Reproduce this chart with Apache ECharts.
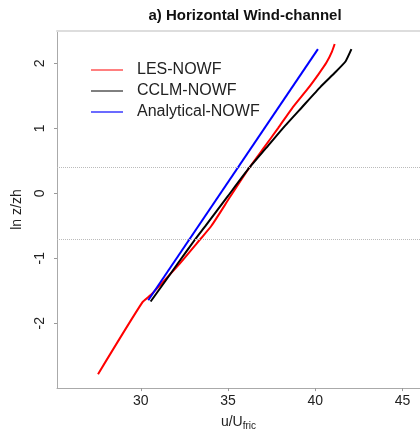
<!DOCTYPE html>
<html>
<head>
<meta charset="utf-8">
<script src="https://cdn.jsdelivr.net/npm/echarts@6/dist/echarts.min.js"></script>
<style>
  html, body { margin: 0; padding: 0; background: #fff; }
  #chart { width: 420px; height: 436px; }
</style>
</head>
<body>
<div id="chart"></div>
<script>
// Wind profiles: u/U_fric against ln(z/zh)
const lesU  = [27.55, 30.09, 30.57, 31.15, 32.08, 33.43, 34.05, 35.13, 36.21, 37.05, 37.87, 38.66, 39.56, 40.18, 40.64, 40.95, 41.11];
const lesZ  = [-2.786, -1.68, -1.566, -1.40, -1.13, -0.70, -0.50, -0.05, 0.39, 0.70, 1.005, 1.306, 1.607, 1.833, 2.014, 2.179, 2.30];

const cclmU = [30.565, 31.41, 32.2, 33.14, 33.71, 35.0, 36.21, 37.19, 38.15, 39.25, 40.3, 41.13, 41.73, 42.07];
const cclmZ = [-1.666, -1.35, -1.05, -0.70, -0.50, -0.04, 0.39, 0.70, 1.005, 1.33, 1.64, 1.86, 2.03, 2.22];

const anaU  = [30.43, 40.15];
const anaZ  = [-1.646, 2.22];

// reference heights marked with dotted lines
const refLevels = [0.40, -0.70];

const xTicks = [30, 35, 40, 45];
const yTicks = [-2, -1, 0, 1, 2];

const pairs = (xs, ys) => xs.map((x, i) => [x, ys[i]]);

const chart = echarts.init(document.getElementById('chart'));
const font = 'Liberation Sans, Arial, sans-serif';

chart.setOption({
  animation: false,
  backgroundColor: '#fff',
  textStyle: { fontFamily: font },
  title: {
    text: 'a) Horizontal Wind-channel',
    left: 240, top: 3, textAlign: 'center',
    textStyle: { fontFamily: font, fontWeight: 'bold', fontSize: 15, color: '#111' }
  },
  legend: {
    orient: 'vertical',
    left: 85, top: 57,
    itemWidth: 32, itemHeight: 14, itemGap: 5,
    textStyle: { fontFamily: font, fontSize: 16, color: '#222', padding: [0, 0, 0, 9] },
    data: [
      { name: 'LES-NOWF', lineStyle: { width: 1 }, itemStyle: { opacity: 0 } },
      { name: 'CCLM-NOWF', lineStyle: { width: 1 }, itemStyle: { opacity: 0 } },
      { name: 'Analytical-NOWF', lineStyle: { width: 2, color: '#6b6bff' }, itemStyle: { opacity: 0 } }
    ]
  },
  grid: { left: 57, top: 31, bottom: 41, right: -5 },
  xAxis: [{
    type: 'value', min: 25.2, max: 46,
    position: 'bottom',
    name: '{a|u/U}{b|fric}',
    nameLocation: 'middle', nameGap: 22,
    nameTextStyle: {
      rich: {
        a: { fontFamily: font, fontSize: 14, color: '#222', lineHeight: 16 },
        b: { fontFamily: font, fontSize: 10, color: '#222', lineHeight: 16, padding: [8, 0, 0, 0] }
      }
    },
    splitLine: { show: false },
    axisLine: { show: true, onZero: false, lineStyle: { color: '#aaa', width: 1 } },
    axisTick: { show: true, length: 3, customValues: xTicks, lineStyle: { color: '#999' } },
    axisLabel: { customValues: xTicks, margin: 6, fontSize: 14, color: '#222', fontFamily: font }
  }, {
    type: 'value', min: 25.2, max: 46,
    position: 'top',
    splitLine: { show: false },
    axisLine: { show: true, onZero: false, lineStyle: { color: '#ddd', width: 2 } },
    axisTick: { show: false },
    axisLabel: { show: false }
  }],
  yAxis: {
    type: 'value', min: -3.0, max: 2.5,
    name: 'ln z/zh',
    nameLocation: 'middle', nameGap: 33, nameRotate: 90,
    nameTextStyle: { fontFamily: font, fontSize: 14, color: '#222' },
    splitLine: { show: false },
    axisLine: { show: true, onZero: false, lineStyle: { color: '#aaa', width: 1 } },
    axisTick: { show: true, length: 3, customValues: yTicks, lineStyle: { color: '#999' } },
    axisLabel: { customValues: yTicks, rotate: 90, margin: 10, fontSize: 14, color: '#222', fontFamily: font }
  },
  series: [
    {
      name: 'LES-NOWF', type: 'line', symbol: 'none', smooth: 0.2,
      data: pairs(lesU, lesZ),
      lineStyle: { color: '#ff0000', width: 2 }, itemStyle: { color: '#ff0000' },
      markLine: {
        silent: true, symbol: 'none', label: { show: false },
        lineStyle: { color: '#bbb', type: [1, 1], width: 1 },
        data: refLevels.map(v => ({ yAxis: v }))
      }
    },
    {
      name: 'CCLM-NOWF', type: 'line', symbol: 'none', smooth: 0.15,
      data: pairs(cclmU, cclmZ),
      lineStyle: { color: '#000000', width: 2 }, itemStyle: { color: '#000000' }
    },
    {
      name: 'Analytical-NOWF', type: 'line', symbol: 'none',
      data: pairs(anaU, anaZ),
      lineStyle: { color: '#0000ff', width: 2 }, itemStyle: { color: '#0000ff' }
    }
  ]
});
</script>
</body>
</html>
